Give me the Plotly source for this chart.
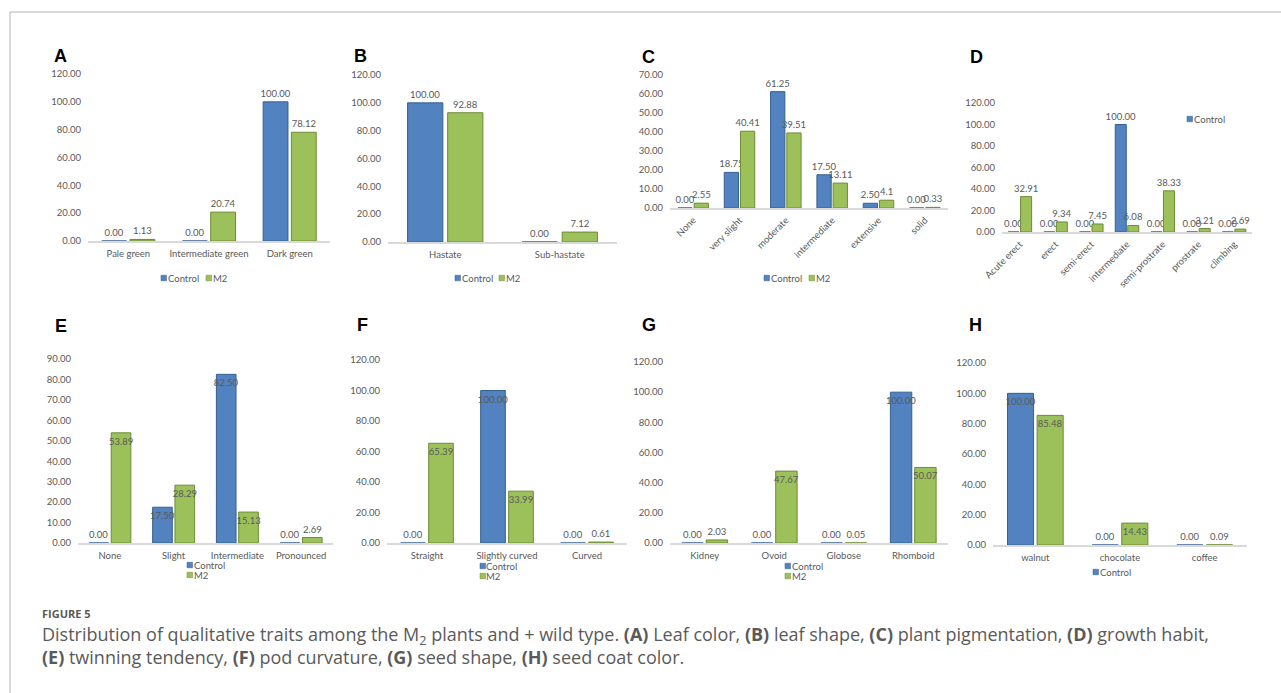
import plotly.graph_objects as go

W, H = 1281, 693

# ---------------- data ----------------
series_names = ["Control", "M2"]

a_cats = ["Pale green", "Intermediate green", "Dark green"]
a_ctrl = [0.00, 0.00, 100.00]
a_m2 = [1.13, 20.74, 78.12]

b_cats = ["Hastate", "Sub-hastate"]
b_ctrl = [100.00, 0.00]
b_m2 = [92.88, 7.12]

c_cats = ["None", "very slight", "moderate", "intermediate", "extensive", "solid"]
c_ctrl = [0.00, 18.75, 61.25, 17.50, 2.50, 0.00]
c_m2 = [2.55, 40.41, 39.51, 13.11, 4.10, 0.33]
c_m2_labels = ["2.55", "40.41", "39.51", "13.11", "4.1", "0.33"]

d_cats = ["Acute erect", "erect", "semi-erect", "intermediate", "semi-prostrate", "prostrate", "climbing"]
d_ctrl = [0.00, 0.00, 0.00, 100.00, 0.00, 0.00, 0.00]
d_m2 = [32.91, 9.34, 7.45, 6.08, 38.33, 3.21, 2.69]

e_cats = ["None", "Slight", "Intermediate", "Pronounced"]
e_ctrl = [0.00, 17.50, 82.50, 0.00]
e_m2 = [53.89, 28.29, 15.13, 2.69]

f_cats = ["Straight", "Slightly curved", "Curved"]
f_ctrl = [0.00, 100.00, 0.00]
f_m2 = [65.39, 33.99, 0.61]

g_cats = ["Kidney", "Ovoid", "Globose", "Rhomboid"]
g_ctrl = [0.00, 0.00, 0.00, 100.00]
g_m2 = [2.03, 47.67, 0.05, 50.07]

h_cats = ["walnut", "chocolate", "coffee"]
h_ctrl = [100.00, 0.00, 0.00]
h_m2 = [85.48, 14.43, 0.09]

# ---------------- style ----------------
CTRL_COLOR = "#5283c0"
CTRL_LINE = "#35608f"
M2_COLOR = "#9dc15a"
M2_LINE = "#6e8a36"
TXT = "#595959"
FONT = "Lato, Liberation Sans, sans-serif"
FS = 9.5

# panel layout: pixel box (x0, x1, ytop, ybottom) of the plot area
panels = [
    dict(letter="A", cats=a_cats, ctrl=a_ctrl, m2=a_m2, m2_labels=None, ymax=120, dtick=20,
         box=(88, 330, 74, 241), angle=0, inside=False, letter_xy=(52, 56),
         legend=dict(items=[(161, 278), (206, 278)], names=series_names)),
    dict(letter="B", cats=b_cats, ctrl=b_ctrl, m2=b_m2, m2_labels=None, ymax=120, dtick=20,
         box=(388, 617, 75, 242), angle=0, inside=False, letter_xy=(352, 56),
         legend=dict(items=[(455, 278), (499, 278)], names=series_names)),
    dict(letter="C", cats=c_cats, ctrl=c_ctrl, m2=c_m2, m2_labels=c_m2_labels, ymax=70, dtick=10,
         box=(670, 948, 75, 208), angle=-45, inside=False, letter_xy=(640, 57),
         legend=dict(items=[(764, 278), (809, 278)], names=series_names)),
    dict(letter="D", cats=d_cats, ctrl=d_ctrl, m2=d_m2, m2_labels=None, ymax=120, dtick=20,
         box=(1002, 1252, 103, 232), angle=-45, inside=False, letter_xy=(968, 57),
         legend=dict(items=[(1187, 119)], names=series_names[:1])),
    dict(letter="E", cats=e_cats, ctrl=e_ctrl, m2=e_m2, m2_labels=None, ymax=90, dtick=10,
         box=(78, 333, 359, 543), angle=0, inside=True, letter_xy=(53, 326),
         legend=dict(items=[(187, 565), (187, 575)], names=series_names)),
    dict(letter="F", cats=f_cats, ctrl=f_ctrl, m2=f_m2, m2_labels=None, ymax=120, dtick=20,
         box=(387, 627, 360, 543), angle=0, inside=True, letter_xy=(355, 325),
         legend=dict(items=[(480, 566), (480, 576)], names=series_names)),
    dict(letter="G", cats=g_cats, ctrl=g_ctrl, m2=g_m2, m2_labels=None, ymax=120, dtick=20,
         box=(670, 948, 362, 543), angle=0, inside=True, letter_xy=(640, 325),
         legend=dict(items=[(785, 566), (785, 576)], names=series_names)),
    dict(letter="H", cats=h_cats, ctrl=h_ctrl, m2=h_m2, m2_labels=None, ymax=120, dtick=20,
         box=(993, 1247, 363, 545), angle=0, inside=True, letter_xy=(967, 325),
         legend=dict(items=[(1093, 572)], names=series_names[:1])),
]


def px(x):
    return x / W


def py(y):
    return (H - y) / H


fig = go.Figure()
annotations = []
shapes = []
colors = {"Control": (CTRL_COLOR, CTRL_LINE), "M2": (M2_COLOR, M2_LINE)}

for i, p in enumerate(panels):
    n = "" if i == 0 else str(i + 1)
    xa, ya = "x" + n, "y" + n
    for name, vals, labels in (("Control", p["ctrl"], None), ("M2", p["m2"], p["m2_labels"])):
        texts = labels if labels is not None else [f"{v:.2f}" for v in vals]
        pos = [("inside" if (p["inside"] and v >= 10) else "outside") for v in vals]
        fc, lc = colors[name]
        fig.add_trace(go.Bar(
            x=p["cats"], y=vals, name=name, xaxis=xa, yaxis=ya,
            marker=dict(color=fc, line=dict(color=lc, width=1)),
            text=texts, textposition=pos, insidetextanchor="end",
            textangle=0, constraintext="none", cliponaxis=False,
            textfont=dict(family=FONT, size=FS, color=TXT),
            insidetextfont=dict(family=FONT, size=FS, color=TXT),
            outsidetextfont=dict(family=FONT, size=FS, color=TXT),
            showlegend=False, hoverinfo="x+y+name",
        ))
    x0, x1, yt, yb = p["box"]
    fig.layout["xaxis" + n] = dict(
        domain=[px(x0), px(x1)], anchor=ya, type="category", automargin=False,
        showline=True, linecolor="#d9d9d9", linewidth=2, showgrid=False,
        zeroline=False, ticks="", tickangle=p["angle"], fixedrange=True,
        ticklabelstandoff=3 if p["angle"] == 0 else 1,
        tickfont=dict(family=FONT, size=FS, color=TXT),
    )
    fig.layout["yaxis" + n] = dict(
        domain=[py(yb), py(yt)], anchor=xa, range=[0, p["ymax"]], dtick=p["dtick"],
        tickformat=".2f", showgrid=False, zeroline=False, showline=False, automargin=False,
        ticks="", ticklabelstandoff=6, fixedrange=True,
        tickfont=dict(family=FONT, size=FS, color=TXT),
    )
    # panel letter
    lx, ly = p["letter_xy"]
    annotations.append(dict(
        x=px(lx), y=py(ly), xref="paper", yref="paper", xanchor="left", yanchor="middle",
        text=f"<b>{p['letter']}</b>", showarrow=False,
        font=dict(family="Liberation Sans, Arial, sans-serif", size=18, color="#000000"),
    ))
    # legend (small squares + labels)
    for (sx, sy), name in zip(p["legend"]["items"], p["legend"]["names"]):
        fc, lc = colors[name]
        shapes.append(dict(type="rect", xref="paper", yref="paper",
                           x0=px(sx), x1=px(sx + 5.5), y0=py(sy + 2.75), y1=py(sy - 2.75),
                           fillcolor=fc, line=dict(color=lc, width=0.5)))
        annotations.append(dict(
            x=px(sx + 5.5), y=py(sy), xref="paper", yref="paper", xanchor="left",
            yanchor="middle", text=name, showarrow=False, xshift=-1,
            font=dict(family=FONT, size=FS, color=TXT),
        ))

# frame lines
shapes.append(dict(type="line", xref="paper", yref="paper", x0=px(10), x1=1, y0=py(12), y1=py(12),
                   line=dict(color="#b5b5b5", width=1)))
shapes.append(dict(type="line", xref="paper", yref="paper", x0=px(10), x1=px(10), y0=py(12), y1=0,
                   line=dict(color="#b5b5b5", width=1)))

# caption
CAP_FONT = "Open Sans, Noto Sans, sans-serif"
CAP_COLOR = "#5a5a5a"
annotations.append(dict(
    x=px(40), y=py(613), xref="paper", yref="paper", xanchor="left", yanchor="middle",
    text="<b>FIGURE 5</b>", showarrow=False, font=dict(family=CAP_FONT, size=11, color=CAP_COLOR),
))
annotations.append(dict(
    x=px(40), y=py(635), xref="paper", yref="paper", xanchor="left", yanchor="middle",
    text=("Distribution of qualitative traits among the M<sub>2</sub> plants and + wild type. "
          "<b>(A)</b> Leaf color, <b>(B)</b> leaf shape, <b>(C)</b> plant pigmentation, "
          "<b>(D)</b> growth habit,"),
    showarrow=False, font=dict(family=CAP_FONT, size=18, color=CAP_COLOR),
))
annotations.append(dict(
    x=px(40), y=py(657), xref="paper", yref="paper", xanchor="left", yanchor="middle",
    text=("<b>(E)</b> twinning tendency, <b>(F)</b> pod curvature, <b>(G)</b> seed shape, "
          "<b>(H)</b> seed coat color."),
    showarrow=False, font=dict(family=CAP_FONT, size=18, color=CAP_COLOR),
))

fig.update_layout(
    width=W, height=H, autosize=False,
    margin=dict(l=0, r=0, t=0, b=0, pad=0, autoexpand=False),
    paper_bgcolor="white", plot_bgcolor="white",
    barmode="group", bargap=0.3, bargroupgap=0.12,
    annotations=annotations, shapes=shapes, showlegend=False,
)

fig.write_html(
    "out.html",
    config={"displayModeBar": False, "responsive": False},
    post_script="document.body.style.margin='0';document.body.style.overflow='hidden';",
)
